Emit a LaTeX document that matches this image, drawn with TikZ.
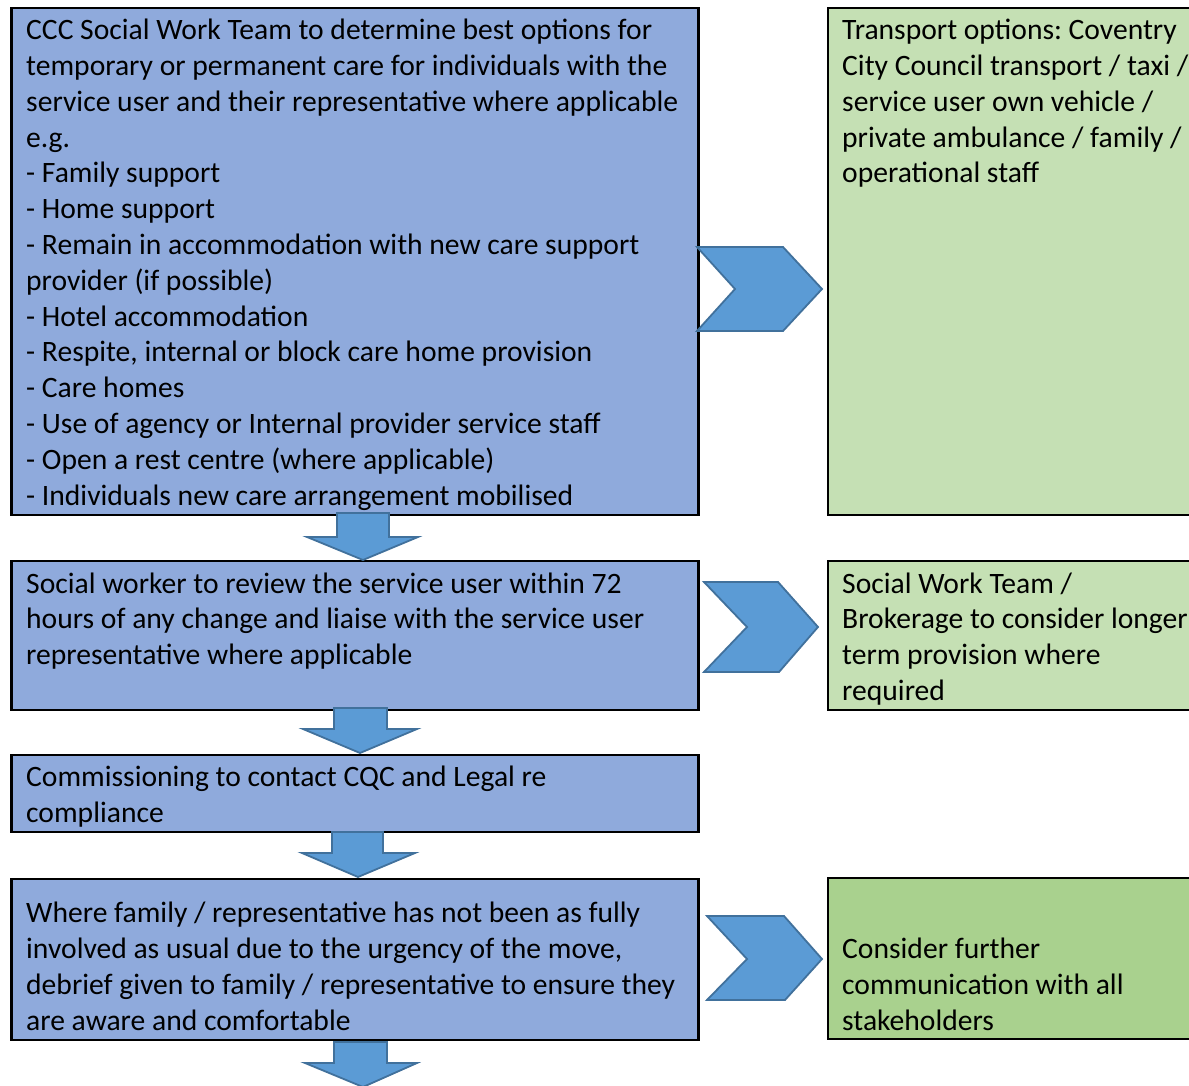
\documentclass[tikz,border=0pt]{standalone}
\usepackage{fontspec}
\setmainfont{Carlito}
\frenchspacing
\definecolor{boxblue}{HTML}{8FAADC}
\definecolor{lightgreen}{HTML}{C5E0B4}
\definecolor{midgreen}{HTML}{A9D18E}
\definecolor{arrowblue}{HTML}{5B9BD5}
\definecolor{arrowedge}{HTML}{41719C}
\begin{document}
\begin{tikzpicture}[x=1pt,y=-1pt,
  bluebox/.style={draw=black,line width=2.5pt,fill=boxblue,inner sep=0pt,minimum width=687pt},
  greenbox/.style={draw=black,line width=2.5pt,fill=lightgreen,inner sep=0pt,minimum width=367pt},
  txt/.style={anchor=north west,inner sep=0pt,align=left,font=\fontsize{29.6}{35.8}\selectfont\frenchspacing},
  blockarrow/.style={draw=arrowedge,line width=1.8pt,fill=arrowblue,line join=miter}]
\useasboundingbox (0,0) rectangle (1189,1086);
\fill[white] (0,0) rectangle (1189,1086);
% boxes
\node[bluebox,minimum height=507pt] (b1) at (355,261.5) {};
\node[bluebox,minimum height=149pt] (b2) at (355,635.5) {};
\node[bluebox,minimum height=77pt] (b3) at (355,793.5) {};
\node[bluebox,minimum height=161pt] (b4) at (355,959.5) {};
\node[greenbox,minimum height=507pt] (g1) at (1011.5,261.5) {};
\node[greenbox,minimum height=149pt] (g2) at (1011.5,635.5) {};
\node[greenbox,fill=midgreen,minimum height=161pt] (g3) at (1011.5,958.5) {};
% texts
\node[txt] (t1) at (26,14.4) {\strut CCC Social Work Team to determine best options for\\
temporary or permanent care for individuals with the\\
service user and their representative where applicable\\
e.g.\\
- Family support\\
- Home support\\
- Remain in accommodation with new care support\\
provider (if possible)\\
- Hotel accommodation\\
- Respite, internal or block care home provision\\
- Care homes\\
- Use of agency or Internal provider service staff\\
- Open a rest centre (where applicable)\\
- Individuals new care arrangement mobilised};
\node[txt] (u1) at (842,14.4) {\strut Transport options: Coventry\\
City Council transport / taxi /\\
service user own vehicle /\\
private ambulance / family /\\
operational staff};
\node[txt] (t2) at (26,567.9) {\strut Social worker to review the service user within 72\\
hours of any change and liaise with the service user\\
representative where applicable};
\node[txt] (u2) at (842,567.9) {\strut Social Work Team /\\
Brokerage to consider longer\\
term provision where\\
required};
\node[txt] (t3) at (26,761.4) {\strut Commissioning to contact CQC and Legal re\\
compliance};
\node[txt] (t4) at (26,897.4) {\strut Where family / representative has not been as fully\\
involved as usual due to the urgency of the move,\\
debrief given to family / representative to ensure they\\
are aware and comfortable};
\node[txt] (u3) at (842,933.4) {\strut Consider further\\
communication with all\\
stakeholders};
% chevrons
\draw[blockarrow] (697,247) -- (783,247) -- (822,289) -- (783,331) -- (697,331) -- (735,289) -- cycle;
\draw[blockarrow] (704,582) -- (778,582) -- (818,627) -- (779,672) -- (704,672) -- (747,627) -- cycle;
\draw[blockarrow] (707,916) -- (784,916) -- (822,959) -- (785,1000) -- (707,1000) -- (747,959) -- cycle;
% down arrows
\draw[blockarrow] (337,513) -- (389,513) -- (389,537) -- (418,537) -- (363,560) -- (307,537) -- (337,537) -- cycle;
\draw[blockarrow] (334,708) -- (387,708) -- (387,729) -- (417,729) -- (360,753) -- (303,729) -- (334,729) -- cycle;
\draw[blockarrow] (332,832) -- (383,832) -- (383,853) -- (415,853) -- (358,877) -- (302,853) -- (332,853) -- cycle;
\draw[blockarrow] (334,1042) -- (387,1042) -- (387,1063) -- (417,1063) -- (363,1087) -- (305,1063) -- (334,1063) -- cycle;
\end{tikzpicture}
\end{document}
